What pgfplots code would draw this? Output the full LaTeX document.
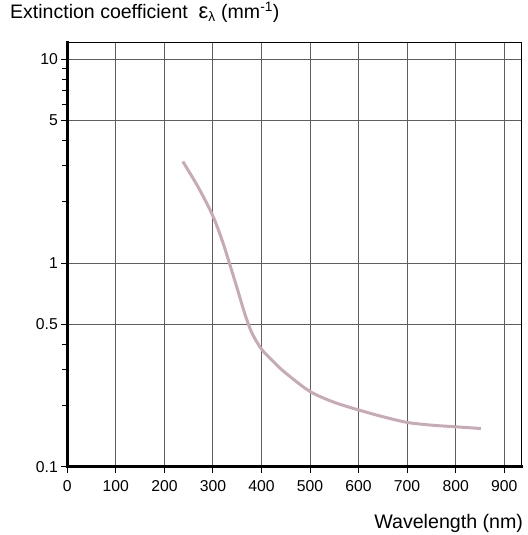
\documentclass[border=0pt]{standalone}
\usepackage{fontspec}
\setmainfont{Liberation Sans}
\usepackage{pgfplots}
\pgfplotsset{compat=1.18}

\definecolor{curvecol}{RGB}{200,170,182}
\definecolor{gridcol}{RGB}{95,95,95}

\begin{document}
\begin{tikzpicture}
\begin{axis}[
    scale only axis,
    width=454.4bp,
    height=424bp,
    xmin=0, xmax=936,
    ymode=log,
    ymin=0.1, ymax=12.07,
    xtick={0,100,...,900},
    ytick={0.1,0.5,1,5,10},
    yticklabels={0.1,0.5,1,5,10},
    minor ytick={0.2,0.3,0.4,2,3,4,6,7,8,9},
    grid=major,
    major grid style={gridcol, line width=1bp},
    tick align=outside,
    xtick pos=bottom,
    ytick pos=left,
    major tick length=6bp,
    minor tick length=5bp,
    tick style={black, line width=1bp},
    axis line style={black, line width=1bp},
    tick label style={font=\fontsize{15.8}{18}\selectfont},
    xticklabel style={yshift=-4bp},
    /pgf/number format/assume math mode=true,
    title={Extinction coefficient\ \ {\fontsize{22}{22}\selectfont ε}\textsubscript{λ} (mm\textsuperscript{-1})},
    title style={at={(rel axis cs:0,1)}, anchor=base west,
                 xshift=-57.3bp, yshift=18.2bp, inner sep=0pt,
                 font=\fontsize{19.6}{22}\selectfont},
    xlabel={Wavelength (nm)},
    xlabel style={at={(rel axis cs:1,0)}, anchor=base east,
                  yshift=-61.6bp, xshift=1.5bp, inner sep=0pt,
                  font=\fontsize{19.7}{22}\selectfont},
    clip=false,
]
\addplot[curvecol, line width=3bp, smooth] coordinates {
    (238,3.15) (270,2.35) (300,1.70) (320,1.27) (335,0.98)
    (350,0.75) (365,0.57) (380,0.455) (400,0.378) (425,0.327)
    (450,0.288) (500,0.234) (550,0.207) (600,0.19)
    (650,0.176) (700,0.165) (750,0.160) (800,0.157) (852,0.154)
};
\draw[black, line width=3.3bp, line cap=rect] (rel axis cs:0,1) -- (rel axis cs:0,0) -- (rel axis cs:1,0);
\coordinate (ll) at (rel axis cs:0,0);
\coordinate (ur) at (rel axis cs:1,1);
\end{axis}
\path ([shift={(-67.3bp,-68.3bp)}]ll) ([shift={(6.3bp,42.7bp)}]ur);
\end{tikzpicture}
\end{document}
